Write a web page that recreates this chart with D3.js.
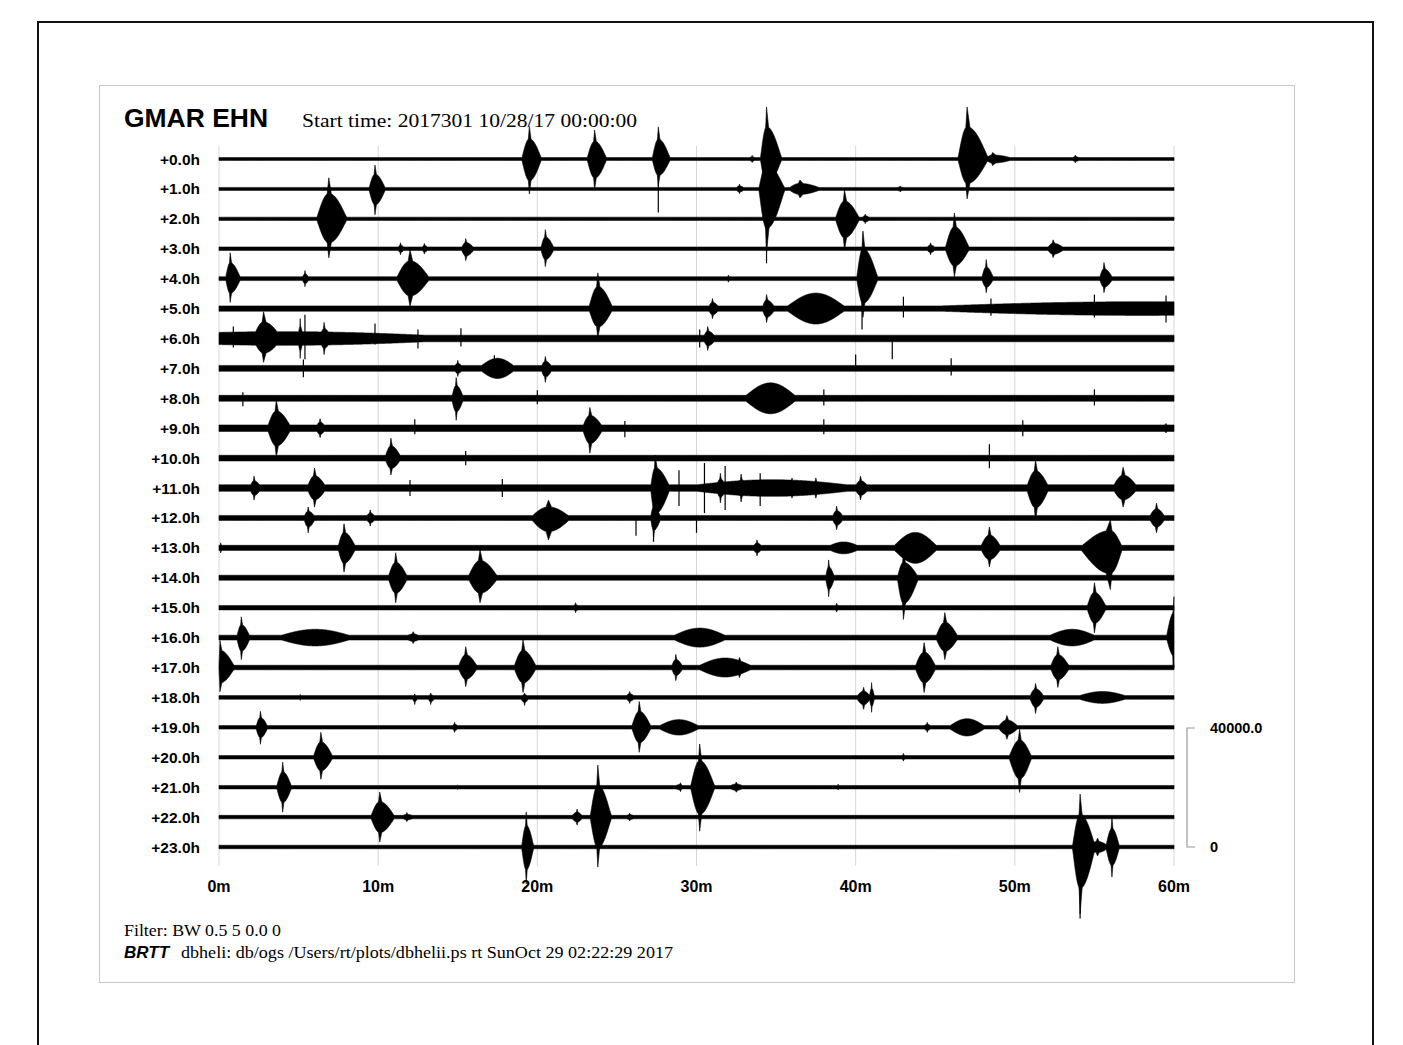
<!DOCTYPE html>
<html><head><meta charset="utf-8">
<script src="https://cdn.jsdelivr.net/npm/d3@7"></script>
<style>body{margin:0;background:#fff}</style>
</head><body>
<svg id="c" width="1403" height="1045"></svg>
<script>
// ---------------- data ----------------
const stationName = "GMAR EHN";
const startTime = "Start time: 2017301 10/28/17 00:00:00";
const filterText = "Filter: BW 0.5 5 0.0 0";
const brttText = "BRTT";
const footerText = "dbheli: db/ogs /Users/rt/plots/dbhelii.ps rt SunOct 29 02:22:29 2017";
const hourLabels = d3.range(24).map(h => `+${h}.0h`);
const minuteTicks = [0, 10, 20, 30, 40, 50, 60];
const tickLabels = ["0m", "10m", "20m", "30m", "40m", "50m", "60m"];
const scaleValues = [0, 40000];
const scaleLabels = ["0", "40000.0"];
// background noise half-amplitude per hour (counts)
const noiseLevel = [500, 500, 550, 600, 650, 900, 1100, 1000, 1000, 1100, 950, 1100,
                    850, 850, 850, 750, 800, 750, 620, 580, 580, 580, 580, 580];
// events: [hour, minute of peak, up amplitude, down amplitude, rise (min), decay (min)]
const quakes = [
 [0,19.5,11000,11800,0.5,0.8],[0,23.6,9700,10400,0.5,0.8],[0,27.6,10800,9000,0.4,0.8],
 [0,33.5,1200,1200,0.3,0.3],[0,34.4,17500,14000,0.4,1.0],[0,47.0,17500,13400,0.6,1.4],
 [0,48.6,2200,2200,0.5,1.5],[0,53.8,1300,1300,0.3,0.4],
 [1,9.8,8000,8700,0.4,0.7],[1,32.7,1600,1600,0.3,0.4],[1,34.4,13400,21500,0.5,1.2],
 [1,36.5,3000,3000,0.8,1.5],[1,42.8,1000,1000,0.5,0.5],
 [2,6.9,13800,13100,0.8,1.2],[2,39.3,9700,10400,0.6,1.0],[2,40.6,1600,1600,0.3,0.4],
 [3,11.4,2000,2000,0.2,0.3],[3,12.9,1800,1800,0.2,0.3],[3,15.5,3400,4000,0.3,0.6],
 [3,20.5,6400,6000,0.3,0.6],[3,44.7,2000,2000,0.3,0.4],[3,46.2,12000,9400,0.6,1.0],
 [3,52.4,3000,3000,0.4,0.8],
 [4,0.7,8700,8000,0.3,0.7],[4,5.4,2700,2700,0.2,0.3],[4,12.0,9700,9400,0.9,1.3],
 [4,32.0,1200,1200,0.2,0.3],[4,40.45,16500,13400,0.4,1.0],[4,48.2,6400,4700,0.3,0.5],
 [4,55.6,5400,4700,0.3,0.6],
 [5,23.8,12000,10000,0.6,1.0],[5,31.0,3400,3400,0.3,0.5],[5,34.4,4700,4700,0.3,0.6],
 [6,2.8,9000,8000,0.7,1.2],
 [6,5.1,6700,6700,0.15,0.2],[6,6.6,5400,5400,0.3,0.5],[6,30.7,4000,4000,0.3,0.6],
 [7,15.0,2700,2700,0.3,0.4],[7,20.5,4000,4700,0.3,0.5],
 [8,14.9,7000,7400,0.3,0.5],
 [9,3.6,9400,9700,0.6,1.0],[9,6.35,3400,3400,0.3,0.4],[9,23.3,7000,8400,0.5,0.9],
 [9,59.5,1600,1600,0.8,0.5],
 [10,10.8,6700,5700,0.4,0.7],
 [11,2.2,4000,4000,0.3,0.5],[11,6.0,6700,6400,0.5,0.8],[11,27.4,11100,14000,0.3,1.0],
 [11,31.5,5000,5000,0.3,0.4],[11,32.8,4700,4700,0.3,0.5],
 [11,36.0,3400,3400,0.5,0.5],[11,37.5,3400,3400,0.5,0.5],[11,40.3,4000,4000,0.4,0.6],
 [11,51.3,9400,10800,0.6,0.9],[11,56.8,7000,6400,0.7,1.0],
 [12,5.6,3700,5000,0.3,0.5],[12,9.5,2700,2700,0.3,0.4],[12,20.7,6000,7400,1.2,1.5],
 [12,27.3,6000,6700,0.2,0.5],[12,38.8,4000,4000,0.3,0.5],[12,58.9,5000,5000,0.5,0.6],
 [13,0.1,1700,1700,0.1,0.3],[13,7.85,8400,8400,0.4,0.8],[13,33.8,2700,2700,0.3,0.4],
 [13,48.4,7000,6400,0.6,0.8],[13,56.0,9400,14000,2.0,0.8],
 [14,11.1,8400,8400,0.5,0.8],[14,16.4,9400,8400,0.8,1.2],[14,38.3,6000,6400,0.2,0.4],
 [14,43.0,8400,14000,0.4,1.0],
 [15,22.4,1700,1700,0.2,0.3],[15,38.8,1500,1500,0.2,0.3],[15,55.0,8400,8400,0.5,0.8],
 [16,1.4,7000,7400,0.3,0.6],[16,12.2,2000,2000,0.6,0.6],
 [16,45.6,8400,7400,0.6,0.9],[16,60.0,13800,10000,0.5,0.1],
 [17,0.05,9400,8400,0.05,1.0],[17,15.5,7000,6400,0.5,0.8],[17,19.1,9400,8400,0.6,0.9],
 [17,28.7,4400,4400,0.3,0.5],[17,32.7,3400,3400,0.6,0.7],
 [17,44.3,8400,8400,0.6,0.8],[17,52.7,7000,6700,0.5,0.8],
 [18,5.1,1000,1000,0.2,0.2],[18,12.3,1200,2400,0.2,0.2],[18,13.3,1500,2400,0.2,0.3],
 [18,19.2,1500,2700,0.3,0.3],[18,25.8,2000,2000,0.3,0.4],[18,40.5,3400,4000,0.5,0.5],
 [18,41.0,5000,5000,0.15,0.2],[18,51.3,4700,5400,0.4,0.6],
 [19,2.6,5400,5700,0.3,0.5],[19,14.8,1700,1700,0.2,0.3],[19,26.4,8700,8400,0.5,0.8],
 [19,44.5,1700,1700,0.3,0.3],[19,49.5,4000,4000,0.6,0.8],
 [20,6.4,8400,7400,0.5,0.8],[20,43.0,1300,1300,0.2,0.2],[20,50.3,9400,11800,0.7,0.8],
 [21,4.0,8400,8400,0.4,0.6],[21,15.0,800,800,0.2,0.2],[21,29.0,1500,1500,0.5,0.2],
 [21,30.2,14500,14800,0.6,1.0],[21,32.5,1700,1700,0.6,0.6],[21,38.9,1000,1000,0.2,0.2],
 [22,10.1,8400,8400,0.6,1.0],[22,11.8,1500,1500,0.4,0.6],[22,22.5,2700,2700,0.4,0.4],
 [22,23.8,17500,16800,0.5,0.9],[22,25.8,1300,1300,0.4,0.5],
 [23,19.3,11800,12400,0.3,0.5],[23,54.1,17800,22500,0.5,1.0],[23,55.2,3000,3000,0.8,0.8],
 [23,56.1,10100,10100,0.4,0.5]
];
// emergent noise bursts: [hour, start minute, end minute, half-amplitude]
const noiseBands = [
 [5,35.4,39.6,5200],[5,40,76,2300],
 [6,-10,18,2300],[7,16.2,18.8,3400],[8,32.8,36.5,5200],[11,28,41.5,2800],
 [13,38,40.5,2000],[13,42.2,45.3,5200],
 [16,3.3,8.8,2800],[16,28.2,32.2,3200],[16,51.8,55.4,2800],
 [17,29.8,33.8,3200],[18,53.6,57.4,2000],
 [19,27.4,30.4,2600],[19,45.7,48.3,2900]
];
// thin spikes: [hour, minute, up, down]
const spikes = [
 [0,27.6,0,18000],[1,34.4,0,25000],[5,40.4,3000,7000],[5,43.0,4000,3000],[5,48.5,3400,2400],
 [5,55.0,4700,3000],[5,59.5,4400,4700],
 [6,0.9,4000,3000],[6,5.4,8000,7000],[6,9.8,5000,2000],[6,12.5,3000,3400],[6,15.2,3400,2700],
 [6,42.3,0,7000],[6,30.2,3000,3000],
 [7,5.3,3000,3000],[7,17.3,4400,3000],[7,40.0,4700,0],[7,46.0,3400,2400],
 [8,1.5,2000,2700],[8,20.0,2700,2000],[8,38.0,3000,2400],[8,55.0,3000,2400],
 [9,12.3,3000,2000],[9,25.5,2400,3000],[9,38.0,3000,2000],[9,50.5,2700,2700],
 [10,48.4,4700,3400],[10,15.5,2400,2400],
 [11,28.9,6000,6000],[11,30.5,8400,8400],[11,31.8,7400,7400],[11,34.0,5000,6000],
 [11,12.0,2700,2700],[11,17.8,3000,3000],
 [12,27.3,0,8000],[12,26.2,0,6000],[12,30.0,0,5000],[16,59.95,0,10000],[23,54.1,0,24000]
];

// ---------------- drawing ----------------
const svg = d3.select("#c");
const x = d3.scaleLinear().domain([0, 60]).range([219, 1174]);
const yRow = d3.scaleLinear().domain([0, 23]).range([159, 847]);
const amp = d3.scaleLinear().domain([0, 40000]).range([0, 119]);

svg.append("path").attr("d", "M38,1046 L38,22 L1373,22 L1373,1046")
  .attr("fill", "none").attr("stroke", "#111").attr("stroke-width", 2);
svg.append("rect").attr("x", 99.5).attr("y", 85.5).attr("width", 1195).attr("height", 897)
  .attr("fill", "none").attr("stroke", "#c8c8c8").attr("stroke-width", 1);

svg.append("g").selectAll("line").data(minuteTicks).join("line")
  .attr("x1", d => x(d)).attr("x2", d => x(d)).attr("y1", 146).attr("y2", 866)
  .attr("stroke", "#d6d6d6").attr("stroke-width", 1);

svg.append("text").attr("x", 124).attr("y", 127).text(stationName)
  .attr("font-family", "Liberation Sans, Arial, sans-serif").attr("font-weight", "bold")
  .attr("font-size", 25).attr("textLength", 144).attr("lengthAdjust", "spacingAndGlyphs");
svg.append("text").attr("x", 302).attr("y", 127).text(startTime)
  .attr("font-family", "Liberation Serif, Times New Roman, serif")
  .attr("font-size", 19).attr("textLength", 335).attr("lengthAdjust", "spacingAndGlyphs");

svg.append("g").selectAll("text").data(hourLabels).join("text")
  .attr("x", 200).attr("y", (d, i) => yRow(i) + 5.5).attr("text-anchor", "end")
  .attr("font-family", "Liberation Sans, Arial, sans-serif").attr("font-weight", "bold")
  .attr("font-size", 15.5).text(d => d);

// event envelope: broad body plus a thin needle at the peak
const shape = u => Math.max(0.62 * Math.pow(1 - u * u, 1.3), 1 - 3 * u);
const samples = d3.range(0, 60.0001, 0.02);
const area = d3.area().x(d => x(d.m)).y0(d => d.yc + amp(d.dn)).y1(d => d.yc - amp(d.up));
const traces = svg.append("g");
hourLabels.forEach((lab, h) => {
  const evs = quakes.filter(q => q[0] === h);
  const bands = noiseBands.filter(b => b[0] === h);
  const yc = yRow(h);
  const pts = samples.map(m => {
    let up = noiseLevel[h], dn = noiseLevel[h];
    for (const b of bands) {
      const mid = (b[1] + b[2]) / 2, half = (b[2] - b[1]) / 2;
      const v = Math.abs(m - mid) / half;
      if (v < 1) {
        const s = Math.pow(1 - v * v, 1.4) * b[3];
        up = Math.max(up, s); dn = Math.max(dn, s);
      }
    }
    for (const e of evs) {
      const u = m < e[1] ? (e[1] - m) / e[4] : (m - e[1]) / e[5];
      if (u < 1) {
        const s = shape(u);
        up = Math.max(up, e[2] * s);
        dn = Math.max(dn, e[3] * s);
      }
    }
    return {m, up, dn, yc};
  });
  traces.append("path").datum(pts).attr("d", area)
    .attr("fill", "#000").attr("stroke", "#000").attr("stroke-width", 0.6);
});
traces.selectAll("line").data(spikes).join("line")
  .attr("x1", d => x(d[1])).attr("x2", d => x(d[1]))
  .attr("y1", d => yRow(d[0]) - amp(d[2])).attr("y2", d => yRow(d[0]) + amp(d[3]))
  .attr("stroke", "#000").attr("stroke-width", 1.2);

svg.append("g").selectAll("text").data(tickLabels).join("text")
  .attr("x", (d, i) => x(minuteTicks[i])).attr("y", 892).attr("text-anchor", "middle")
  .attr("font-family", "Liberation Sans, Arial, sans-serif").attr("font-weight", "bold")
  .attr("font-size", 16).text(d => d);

const sb = svg.append("g");
const sbY = v => yRow(23) - amp(v);
sb.append("path")
  .attr("d", `M1195,${sbY(scaleValues[1])} H1187 V${sbY(scaleValues[0])} H1195`)
  .attr("fill", "none").attr("stroke", "#999").attr("stroke-width", 1.2);
sb.selectAll("text").data(scaleValues).join("text")
  .attr("x", 1210).attr("y", d => sbY(d) + 5).text((d, i) => scaleLabels[i])
  .attr("font-family", "Liberation Sans, Arial, sans-serif").attr("font-weight", "bold")
  .attr("font-size", 14.5);

svg.append("text").attr("x", 124).attr("y", 936).text(filterText)
  .attr("font-family", "Liberation Serif, Times New Roman, serif")
  .attr("font-size", 16).attr("textLength", 157).attr("lengthAdjust", "spacingAndGlyphs");
svg.append("text").attr("x", 124).attr("y", 958).text(brttText)
  .attr("font-family", "Liberation Sans, Arial, sans-serif").attr("font-weight", "bold")
  .attr("font-style", "italic").attr("font-size", 17);
svg.append("text").attr("x", 181).attr("y", 958).text(footerText)
  .attr("font-family", "Liberation Serif, Times New Roman, serif")
  .attr("font-size", 16).attr("textLength", 492).attr("lengthAdjust", "spacingAndGlyphs");
</script>
</body></html>
